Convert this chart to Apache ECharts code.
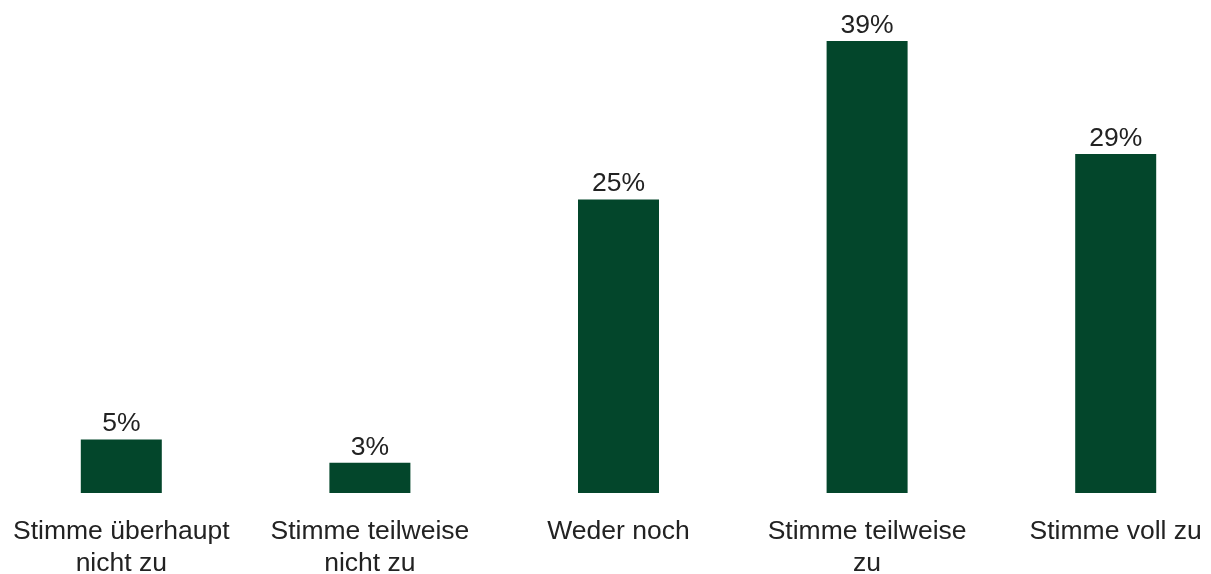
<!DOCTYPE html>
<html>
<head>
<meta charset="utf-8">
<script src="https://cdn.jsdelivr.net/npm/echarts@6/dist/echarts.min.js"></script>
<style>html,body{margin:0;padding:0;background:#fff;overflow:hidden;width:1211px;height:574px}#c{width:1243px;height:574px;margin-left:-3px}</style>
</head>
<body>
<div id="c"></div>
<script>
var categories = ['Stimme überhaupt\nnicht zu', 'Stimme teilweise\nnicht zu', 'Weder noch', 'Stimme teilweise\nzu', 'Stimme voll zu'];
var values = [4.6, 2.6, 25.2, 38.8, 29.1];

var chart = echarts.init(document.getElementById('c'));
chart.setOption({
  animation: false,
  grid: { left: 0, right: 0, top: 27, bottom: 81, containLabel: false, outerBoundsMode: 'none' },
  xAxis: {
    type: 'category',
    data: categories,
    axisLine: { show: false },
    axisTick: { show: false },
    axisLabel: {
      interval: 0,
      margin: 23,
      fontFamily: 'Liberation Sans, Arial, sans-serif',
      fontSize: 26.5,
      lineHeight: 32,
      color: '#222222'
    }
  },
  yAxis: {
    type: 'value',
    min: 0,
    max: 40,
    show: false,
    splitLine: { show: false }
  },
  series: [{
    type: 'bar',
    data: values,
    barWidth: 81,
    itemStyle: { color: '#03462B' },
    label: {
      show: true,
      position: 'top',
      distance: 2,
      fontFamily: 'Liberation Sans, Arial, sans-serif',
      fontSize: 26.5,
      color: '#222222',
      formatter: function (p) { return Math.round(p.value) + '%'; }
    }
  }]
});
</script>
</body>
</html>
